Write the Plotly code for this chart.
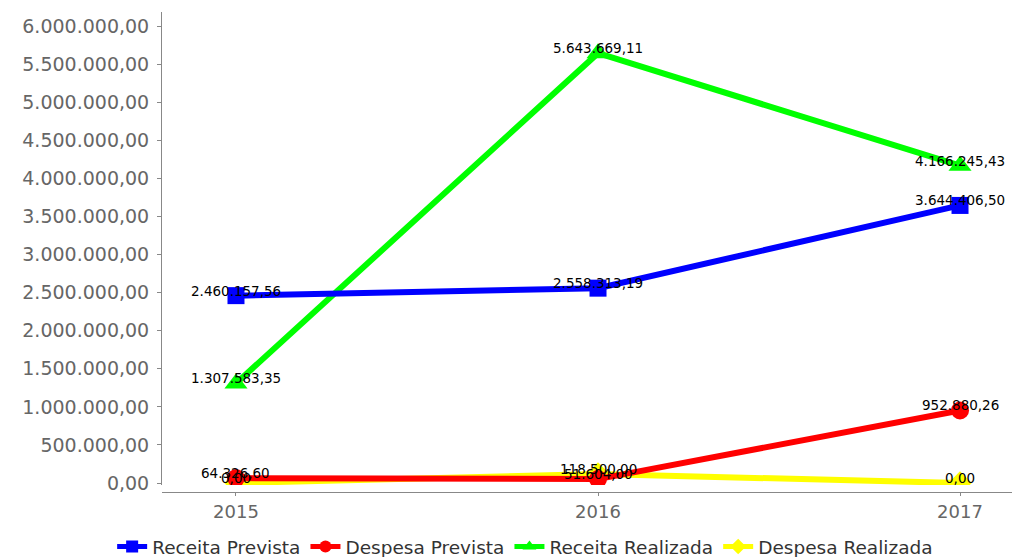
import plotly.graph_objects as go

years = ["2015", "2016", "2017"]
receita_prevista = [2460157.56, 2558313.19, 3644406.50]
despesa_prevista = [64326.60, 51604.00, 952880.26]
receita_realizada = [1307583.35, 5643669.11, 4166245.43]
despesa_realizada = [0.00, 118500.00, 0.00]

series = [
    ("Receita Prevista", receita_prevista, "#0000FF", "square", 17),
    ("Despesa Prevista", despesa_prevista, "#FF0000", "circle", 18),
    ("Receita Realizada", receita_realizada, "#00FF00", "triangle-up", 20),
    ("Despesa Realizada", despesa_realizada, "#FFFF00", "diamond", 18),
]


def br(v):
    s = f"{v:,.2f}"
    return s.replace(",", "X").replace(".", ",").replace("X", ".")


fig = go.Figure()
# first series drawn last so it sits on top
for rank, (name, vals, color, symbol, msize) in reversed(list(enumerate(series))):
    fig.add_trace(go.Scatter(
        x=years, y=vals, name=name, mode="lines+markers",
        line=dict(color=color, width=6),
        marker=dict(color=color, symbol=symbol, size=msize),
        legendrank=rank + 1,
    ))

# value labels; category positions given by index
annotations = []
for name, vals, color, symbol, msize in series:
    for i, v in enumerate(vals):
        annotations.append(dict(
            x=i, y=v, text=br(v), showarrow=False,
            xanchor="center", yanchor="middle", yshift=5,
            font=dict(family="DejaVu Sans", size=13.5, color="#000000"),
        ))

W, H = 1019, 557
left, right, top, bottom = 155, 7, 12, 65
pw = W - left - right
ph = H - top - bottom

fig.update_layout(
    width=W, height=H,
    margin=dict(l=left, r=right, t=top, b=bottom, pad=0, autoexpand=False),
    paper_bgcolor="white", plot_bgcolor="white",
    separators=",.",
    annotations=annotations,
    showlegend=True,
    legend=dict(
        orientation="h", x=-0.05, xanchor="left", y=-0.075, yanchor="top",
        font=dict(family="DejaVu Sans", size=18.5, color="#333333"),
        itemwidth=30, tracegroupgap=0, itemsizing="constant",
    ),
    xaxis=dict(
        type="category", range=[-0.2044, 2.1436],
        domain=[7 / pw, 1], anchor="free", position=0,
        showline=True, linecolor="#888888", linewidth=1,
        ticks="outside", ticklen=3, tickcolor="#888888",
        showgrid=False, zeroline=False,
        tickfont=dict(family="DejaVu Sans", size=18, color="#666666"),
    ),
    yaxis=dict(
        range=[-26000, 6184000], domain=[7 / ph, 1],
        tick0=0, dtick=500000, tickformat=",.2f",
        showline=True, linecolor="#888888", linewidth=1,
        ticks="outside", ticklen=4, tickcolor="#888888",
        ticklabelstandoff=4,
        showgrid=False, zeroline=False,
        tickfont=dict(family="DejaVu Sans", size=19, color="#666666"),
    ),
)

fig.write_html("out.html")
